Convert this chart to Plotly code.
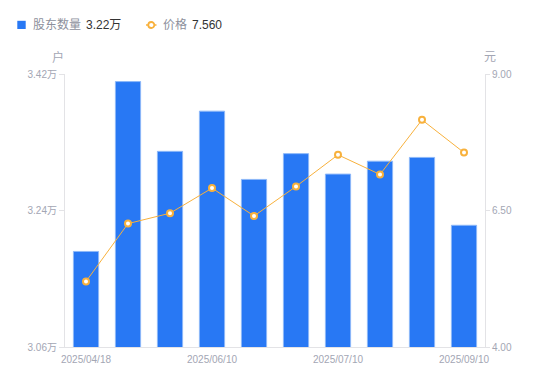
import plotly.graph_objects as go

dates = ["2025/04/18", "2025/04/30", "2025/05/20", "2025/06/10", "2025/06/20",
         "2025/06/30", "2025/07/10", "2025/07/31", "2025/08/31", "2025/09/10"]
holders = [3.186, 3.410, 3.318, 3.371, 3.281, 3.315, 3.288, 3.305, 3.310, 3.2205]  # 万户
price = [5.20, 6.26, 6.45, 6.91, 6.40, 6.94, 7.52, 7.16, 8.16, 7.56]  # 元
x_ticks = ["2025/04/18", "2025/06/10", "2025/07/10", "2025/09/10"]
y_left_ticks = [3.06, 3.24, 3.42]
y_right_ticks = [4.00, 6.50, 9.00]
legend_holders = "3.22万"
legend_price = "7.560"

FONT = "Liberation Sans, Noto Sans CJK SC, sans-serif"
GRAY = "#a3a6b4"
LEG_GRAY = "#8d909c"
DARK = "#333333"
BLUE = "#2878F4"
ORANGE = "#F8B13C"
AXIS = "#e3e3e6"

# page body has an 8px margin; figure is sized so the plot lands where the reference has it
W, H = 542, 373
ML, MR, MT, MB = 57, 65, 66, 34
PW, PH = W - ML - MR, H - MT - MB


def px(x):
    return (x - ML) / PW


def py(y):
    return (H - MB - y) / PH


fig = go.Figure()
fig.add_trace(go.Bar(
    x=dates, y=holders, name="股东数量",
    marker=dict(color=BLUE, line=dict(color="#8DB8F8", width=1)),
    width=0.6, yaxis="y",
))
fig.add_trace(go.Scatter(
    x=dates, y=price, name="价格",
    mode="lines+markers", yaxis="y2",
    line=dict(color=ORANGE, width=1),
    marker=dict(size=6, color="white", line=dict(color=ORANGE, width=2)),
))

shapes = [
    # legend symbols
    dict(type="rect", xref="paper", yref="paper",
         x0=px(9.3), x1=px(17.7), y0=py(21), y1=py(12.8),
         fillcolor=BLUE, line=dict(width=0)),
    dict(type="line", xref="paper", yref="paper",
         x0=px(138), x1=px(148.5), y0=py(17), y1=py(17),
         line=dict(color=ORANGE, width=1.5)),
    dict(type="circle", xref="paper", yref="paper",
         x0=px(140.3), x1=px(146.3), y0=py(20), y1=py(14),
         fillcolor="white", line=dict(color=ORANGE, width=1.8)),
]

annotations = [
    dict(text="股东数量", x=px(22.5), y=py(17), xanchor="left", yanchor="middle",
         font=dict(size=12, color=LEG_GRAY)),
    dict(text=legend_holders, x=px(76), y=py(17), xanchor="left", yanchor="middle",
         font=dict(size=12, color=DARK)),
    dict(text="价格", x=px(152.5), y=py(17), xanchor="left", yanchor="middle",
         font=dict(size=12, color=LEG_GRAY)),
    dict(text=legend_price, x=px(182), y=py(17), xanchor="left", yanchor="middle",
         font=dict(size=12, color=DARK)),
    dict(text="户", x=px(50), y=py(49), xanchor="center", yanchor="middle",
         font=dict(size=12, color=GRAY)),
    dict(text="元", x=px(482), y=py(49), xanchor="center", yanchor="middle",
         font=dict(size=12, color=GRAY)),
]
for a in annotations:
    a.update(xref="paper", yref="paper", showarrow=False)

fig.update_layout(
    width=W, height=H,
    margin=dict(l=ML, r=MR, t=MT, b=MB, autoexpand=False),
    paper_bgcolor="white", plot_bgcolor="white",
    font=dict(family=FONT, size=10, color=GRAY),
    showlegend=False,
    xaxis=dict(type="category", tickmode="array", tickvals=x_ticks, ticktext=x_ticks,
               showline=True, linecolor=AXIS, linewidth=1, ticks="",
               ticklabelstandoff=3,
               showgrid=False, tickfont=dict(size=10, color=GRAY),
               range=[-0.5, len(dates) - 0.5]),
    yaxis=dict(range=[3.06, 3.42], tickmode="array", tickvals=y_left_ticks,
               ticktext=[f"{v:.2f}万" for v in y_left_ticks],
               showline=True, linecolor=AXIS, ticks="outside", ticklen=5,
               tickcolor=AXIS, showgrid=False, zeroline=False,
               tickfont=dict(size=10, color=GRAY)),
    yaxis2=dict(range=[4.0, 9.0], overlaying="y", side="right", tickmode="array",
                tickvals=y_right_ticks, ticktext=[f"{v:.2f}" for v in y_right_ticks],
                showline=True, linecolor=AXIS, ticks="outside", ticklen=4,
                tickcolor=AXIS, showgrid=False, zeroline=False,
                tickfont=dict(size=10, color=GRAY)),
    shapes=shapes,
    annotations=annotations,
)

fig.write_html("out.html")
